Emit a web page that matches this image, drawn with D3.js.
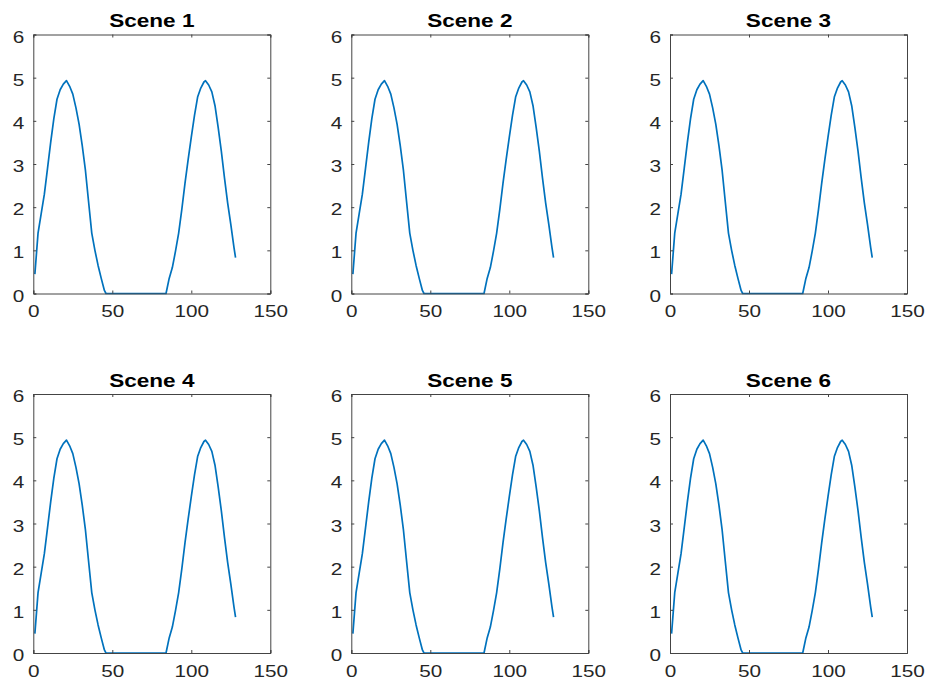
<!DOCTYPE html>
<meta charset="utf-8">
<style>
    body { margin: 0; background: #fff; }
    svg { font-family: "Liberation Sans", Arial, sans-serif; }
</style>
<script src="https://d3js.org/d3.v7.min.js"></script>
<svg id="chart" width="928" height="683"></svg>
<script>
    // Data (same curve in every scene)
    var scenes = ["Scene 1", "Scene 2", "Scene 3", "Scene 4", "Scene 5", "Scene 6"];
    var xValues = [1, 3, 5, 7, 9, 11, 13, 15, 17, 19, 21, 23, 25, 27, 29, 31, 33, 35, 37, 39, 41, 43, 45, 46,
                   55, 65, 75, 84, 86, 88, 90, 92, 94, 96, 98, 100, 102, 104, 106, 108, 109, 111, 113, 115,
                   117, 119, 121, 123, 125, 127, 128];
    var yValues = [0.45, 1.4, 1.85, 2.3, 2.9, 3.5, 4.05, 4.5, 4.72, 4.85, 4.93, 4.8, 4.62, 4.3, 3.92, 3.42, 2.85, 2.12, 1.4, 1.0, 0.65, 0.35, 0.07, 0,
                   0, 0, 0, 0, 0.35, 0.6, 0.98, 1.4, 1.95, 2.55, 3.1, 3.62, 4.12, 4.55, 4.76, 4.9, 4.93, 4.83, 4.67, 4.35,
                   3.85, 3.3, 2.68, 2.1, 1.6, 1.07, 0.83];
    var xTicks = [0, 50, 100, 150];
    var yTicks = [0, 1, 2, 3, 4, 5, 6];

    var svg = d3.select("#chart");

    var colLeft = [33.3, 351.3, 670];
    var rowTop = [34.5, 394];
    var w = 237, h = 259;
    var stretch = 1.22; // text in the picture is drawn a bit wide

    var points = xValues.map(function(x, i) { return [x, yValues[i]]; });

    // move a text's position into a transform so it can be stretched around its anchor
    function widen(sel) {
        sel.each(function() {
            var t = d3.select(this);
            var tx = +t.attr("x") || 0, ty = +t.attr("y") || 0;
            t.attr("x", 0).attr("y", 0)
             .attr("transform", "translate(" + tx + "," + ty + ") scale(" + stretch + ",1)");
        });
    }

    scenes.forEach(function(name, i) {
        var col = i % 3, row = Math.floor(i / 3);
        var g = svg.append("g")
            .attr("transform", "translate(" + colLeft[col] + "," + rowTop[row] + ")");

        var x = d3.scaleLinear().domain([0, 150]).range([0, w]);
        var y = d3.scaleLinear().domain([0, 6]).range([h, 0]);

        // curve
        g.append("path")
            .datum(points)
            .attr("fill", "none")
            .attr("stroke", "#0072BD")
            .attr("stroke-width", 1.7)
            .attr("stroke-linejoin", "round")
            .attr("d", d3.line().x(function(d) { return x(d[0]); }).y(function(d) { return y(d[1]); }));

        // axes, ticks inward on all four sides
        var bottom = g.append("g").attr("transform", "translate(0," + h + ")")
            .call(d3.axisBottom(x).tickValues(xTicks).tickSize(-3).tickPadding(11.5).tickFormat(d3.format("d")));
        var left = g.append("g")
            .call(d3.axisLeft(y).tickValues(yTicks).tickSize(-3).tickPadding(9).tickFormat(d3.format("d")));
        var top = g.append("g")
            .call(d3.axisTop(x).tickValues(xTicks).tickSize(-3).tickFormat(""));
        var right = g.append("g").attr("transform", "translate(" + w + ",0)")
            .call(d3.axisRight(y).tickValues(yTicks).tickSize(-3).tickFormat(""));

        [bottom, left, top, right].forEach(function(a) {
            a.attr("font-family", null).attr("font-size", null);
            a.selectAll("path.domain").attr("stroke", "#444").attr("stroke-width", 1);
            a.selectAll(".tick line").attr("stroke", "#444").attr("stroke-width", 1);
            a.selectAll(".tick text").style("font-size", "17px").style("fill", "#262626");
        });
        left.selectAll(".tick text").attr("dy", "0.45em");
        widen(bottom.selectAll(".tick text"));
        widen(left.selectAll(".tick text"));

        g.append("text")
            .attr("x", w / 2)
            .attr("y", -7.2)
            .attr("text-anchor", "middle")
            .style("font-size", "18.5px")
            .style("font-weight", "bold")
            .style("fill", "#000")
            .text(name)
            .call(widen);
    });
</script>
